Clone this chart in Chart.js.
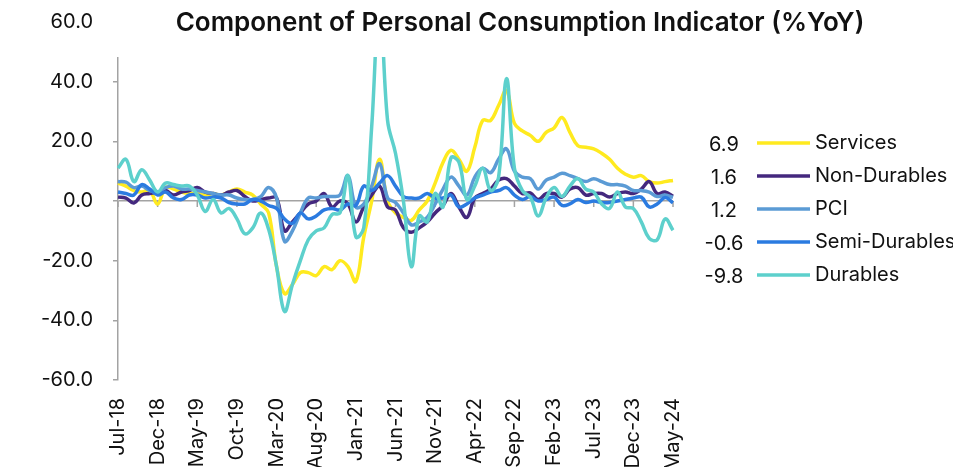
<!DOCTYPE html>
<html>
<head>
<meta charset="utf-8">
<script src="https://cdn.jsdelivr.net/npm/chart.js@4.4.1/dist/chart.umd.min.js"></script>
<style>
  body { margin: 0; background: #fff; }
  #wrap { width: 953px; height: 467px; position: relative; }
</style>
</head>
<body>
<div id="wrap"><canvas id="pciChart"></canvas></div>
<script>
const months = [
  "Jul-18","Aug-18","Sep-18","Oct-18","Nov-18","Dec-18",
  "Jan-19","Feb-19","Mar-19","Apr-19","May-19","Jun-19","Jul-19","Aug-19","Sep-19","Oct-19","Nov-19","Dec-19",
  "Jan-20","Feb-20","Mar-20","Apr-20","May-20","Jun-20","Jul-20","Aug-20","Sep-20","Oct-20","Nov-20","Dec-20",
  "Jan-21","Feb-21","Mar-21","Apr-21","May-21","Jun-21","Jul-21","Aug-21","Sep-21","Oct-21","Nov-21","Dec-21",
  "Jan-22","Feb-22","Mar-22","Apr-22","May-22","Jun-22","Jul-22","Aug-22","Sep-22","Oct-22","Nov-22","Dec-22",
  "Jan-23","Feb-23","Mar-23","Apr-23","May-23","Jun-23","Jul-23","Aug-23","Sep-23","Oct-23","Nov-23","Dec-23",
  "Jan-24","Feb-24","Mar-24","Apr-24","May-24"
];

const services = [
  6, 5, 3.5, 3, 3.5, -1, 4.5, 4, 3, 2.5, 2.5, 2, 2.5, 2, 3, 4, 3, 2, -1, -4,
  -22, -31, -28, -24, -24, -25, -22, -23, -20, -22, -27, -12, 0, 14, 0, -4, -5.5, -6.5, -3, 0,
  6, 13, 17, 14, 10, 18, 27, 27, 32, 37, 26, 23.5, 22, 20, 23, 24.5, 28, 23, 18.5, 18,
  17.5, 16, 14, 11, 9, 8, 8.5, 6.5, 6, 6.5, 6.9
];

const nonDurables = [
  1.3, 1, -0.7, 2, 2.5, 3, 3.5, 2, 3, 3.5, 4.5, 3, 2.5, 2, 3, 3.5, 1.5, 0, 0.5, 1,
  1, -10, -7, -4, -1, 0, 2.5, -2, 0, -1, -7, -2, 2, 5, -2, -3, -9, -10.5, -9, -7,
  -4, -1.5, 2.5, -2, -5.5, 1, 2.5, 4, 7, 7.5, 5, 2.5, 2.7, 0.5, 2.5, 2.5, 1.3, 4, 4.5, 2,
  2.5, 2.5, 1.3, 2.5, 3, 2.5, 4, 6.5, 2.5, 3, 1.6
];

const pci = [
  6.5, 6.3, 4.5, 5, 3.5, 3, 4.5, 5, 4, 4, 3.5, 3, 2.5, 2, 2, 1, 0.5, 0.5, 1.5, 4.5,
  1, -13.5, -10, -4, 1, 1, 1.5, 1.5, 2, 8.5, -2, -1, 5, 12.5, 1, -0.5, -4, -8, -7, -5.5,
  -1, 4, 8, 5, 2, 8, 11, 9.5, 14, 17.5, 10, 8, 7.5, 4, 7, 8, 9.3, 8.5, 7.5, 6.5,
  7.5, 6.5, 5.5, 5.5, 5, 3.5, 3.5, 3, 1.5, 2, 1.2
];

const semiDurables = [
  3, 2.5, 2, 5.5, 4, 2, 3, 1, 0.5, 2, 2, 1, 1.3, 1, -0.5, -1, -1, 0.5, 0, -1.5,
  -2.5, -6, -7.5, -4, -6, -5, -3, -2.5, -3, -1, -1.5, 5, 3.5, 6, 8.5, 5, 1.5, 1, 1, 2.5,
  1, 1, 2, -2, -1, 1, 2, 3, 3.5, 4.5, 2, 0.5, 1.5, 0, 0.5, 1.3, -1.5, -1, 0.5, -0.5,
  0, -0.5, -0.5, 0, 0.5, 1, 1.3, -2, -1, 1.2, -0.6
];

const durables = [
  11, 14, 6.5, 10.5, 7, 3, 6, 5.5, 5, 5, 2, -3.5, 0.5, -4, -2.5, -6, -11, -9, -4, -9.5,
  -22, -37, -28, -20, -13, -10, -9, -4.5, -4, 8.5, -12, -9, 25, 68, 27, 16, 0, -22, -5, -7,
  2.5, -2, 14.5, 13, 0.5, 5, 11, 3.5, 8, 41, 11, 3.5, 1.3, -5, 1, 4.5, 1.5, 5, 7.5, 4,
  3, -1, -2.5, 3, -2, -2.5, -7, -12.5, -13, -6, -9.8
];

const seriesNames = ["Services", "Non-Durables", "PCI", "Semi-Durables", "Durables"];
const seriesColors = ["#FFEA1F", "#44287E", "#5B9BD5", "#2B7BE0", "#5DD0CC"];
const latestLabels = ["6.9", "1.6", "1.2", "-0.6", "-9.8"];
const yTicks = [-60, -40, -20, 0, 20, 40, 60];

const FONT = "Inter, 'Noto Sans', sans-serif";
const AXIS_GREY = "#a3a3a3";

// white title box sitting on top of the plot, like the original
const titlePlugin = {
  id: "titleBox",
  afterDraw(chart) {
    const ctx = chart.ctx;
    ctx.save();
    ctx.fillStyle = "#fff";
    ctx.fillRect(100, 0, 820, 57);
    ctx.fillStyle = "#111";
    ctx.font = "600 26px " + FONT;
    ctx.textAlign = "center";
    ctx.textBaseline = "middle";
    ctx.fillText("Component of Personal Consumption Indicator (%YoY)", 520, 23);
    ctx.restore();
  }
};

// tick marks on the zero line every 5 months
const zeroTicks = {
  id: "zeroTicks",
  beforeDatasetsDraw(chart) {
    const { ctx, scales: { x, y } } = chart;
    const y0 = y.getPixelForValue(0);
    ctx.save();
    ctx.strokeStyle = AXIS_GREY;
    ctx.lineWidth = 1.5;
    for (let i = 0; i < months.length; i += 5) {
      const px = x.getPixelForValue(i);
      ctx.beginPath();
      ctx.moveTo(px, y0);
      ctx.lineTo(px, y0 + 6);
      ctx.stroke();
    }
    ctx.restore();
  }
};

// legend on the right with the latest values
const sideLegend = {
  id: "sideLegend",
  afterDraw(chart) {
    const ctx = chart.ctx;
    ctx.save();
    ctx.textBaseline = "middle";
    seriesNames.forEach((name, i) => {
      const y = 143 + i * 33;
      ctx.fillStyle = "#111";
      ctx.font = "20px " + FONT;
      ctx.textAlign = "center";
      ctx.fillText(latestLabels[i], 724, y + 2);
      ctx.strokeStyle = seriesColors[i];
      ctx.lineWidth = 3.5;
      ctx.beginPath();
      ctx.moveTo(757, y);
      ctx.lineTo(810, y);
      ctx.stroke();
      ctx.textAlign = "left";
      ctx.fillText(name, 815, y);
    });
    ctx.restore();
  }
};

const allSeries = [services, nonDurables, pci, semiDurables, durables];
const datasets = allSeries.map((data, i) => ({
  label: seriesNames[i],
  data: data,
  borderColor: seriesColors[i],
  borderWidth: 3.5,
  pointRadius: 0,
  tension: 0.4,
  fill: false,
  order: allSeries.length - i
}));

new Chart(document.getElementById("pciChart"), {
  type: "line",
  data: { labels: months, datasets },
  options: {
    responsive: true,
    maintainAspectRatio: false,
    animation: false,
    layout: { padding: { top: 22, right: 280, left: 0, bottom: 0 } },
    plugins: {
      legend: { display: false },
      tooltip: { enabled: false }
    },
    scales: {
      x: {
        offset: false,
        grid: { display: false, drawTicks: false },
        border: { display: false },
        ticks: {
          autoSkip: false,
          minRotation: 90,
          maxRotation: 90,
          padding: 18,
          color: "#111",
          font: { family: FONT, size: 20 },
          callback: (v, i) => (i % 5 === 0 ? months[i] : "")
        },
        afterFit: s => { s.height = 87; s.paddingLeft = 0; s.paddingRight = 0; }
      },
      y: {
        min: -60,
        max: 60,
        afterBuildTicks: s => { s.ticks = yTicks.map(v => ({ value: v })); },
        grid: {
          drawTicks: true,
          tickLength: 5,
          tickColor: AXIS_GREY,
          lineWidth: 1.5,
          color: c => (c.tick && c.tick.value === 0 ? AXIS_GREY : "transparent")
        },
        border: { display: true, color: AXIS_GREY, width: 1.5 },
        ticks: {
          padding: 20,
          color: "#111",
          font: { family: FONT, size: 20 },
          callback: v => v.toFixed(1)
        },
        afterFit: s => { s.width = 118; s.paddingTop = 0; s.paddingBottom = 0; }
      }
    }
  },
  plugins: [zeroTicks, sideLegend, titlePlugin]
});
</script>
</body>
</html>
